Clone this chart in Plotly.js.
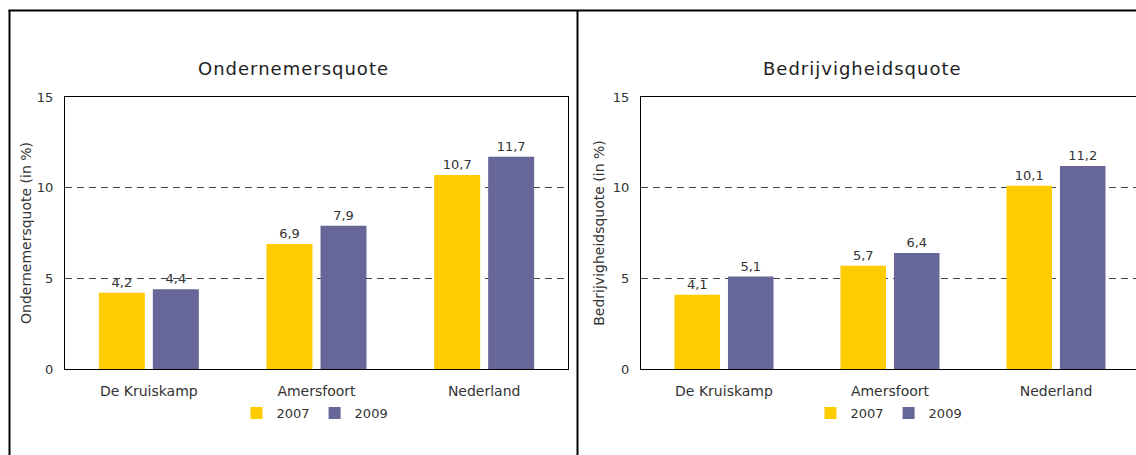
<!DOCTYPE html>
<html>
<head>
<meta charset="utf-8">
<script src="https://cdn.plot.ly/plotly-3.0.1.min.js"></script>
<style>
  html, body { margin: 0; padding: 0; overflow: hidden; background: #fff; }
  #chart { width: 1150px; height: 455px; }
  .annotation-text { letter-spacing: 1px; }
</style>
</head>
<body>
<div id="chart"></div>
<script>
// ---- data ----
const categories = ["De Kruiskamp", "Amersfoort", "Nederland"];
const seriesNames = ["2007", "2009"];
const ondernemers2007 = [4.2, 6.9, 10.7];
const ondernemers2009 = [4.4, 7.9, 11.7];
const bedrijvigheid2007 = [4.1, 5.7, 10.1];
const bedrijvigheid2009 = [5.1, 6.4, 11.2];
const panelTitles = ["Ondernemersquote", "Bedrijvigheidsquote"];
const yTitles = ["Ondernemersquote (in %)", "Bedrijvigheidsquote (in %)"];
const yTicks = [0, 5, 10, 15];

// ---- style ----
const W = 1150, H = 455;
const colors = ["#FFCC00", "#666699"];
const FONT = "DejaVu Sans, Verdana, sans-serif";
const px = v => v / W;
const py = v => 1 - v / H;

function barTrace(name, y, color, xa, ya, legend) {
  return {
    type: "bar", name: name, x: categories, y: y,
    xaxis: xa, yaxis: ya, legend: legend,
    marker: { color: color, line: { width: 0 } },
    texttemplate: "%{y:.1f}", textposition: "outside", cliponaxis: false,
    textfont: { family: FONT, size: 13, color: "#333" },
    hoverinfo: "skip"
  };
}

const data = [
  barTrace(seriesNames[0], ondernemers2007, colors[0], "x", "y", "legend"),
  barTrace(seriesNames[1], ondernemers2009, colors[1], "x", "y", "legend"),
  barTrace(seriesNames[0], bedrijvigheid2007, colors[0], "x2", "y2", "legend2"),
  barTrace(seriesNames[1], bedrijvigheid2009, colors[1], "x2", "y2", "legend2")
];

function xAxis(domain, anchor) {
  return {
    domain: domain, anchor: anchor, showline: true, mirror: true,
    linecolor: "#000", linewidth: 1, ticks: "", showgrid: false,
    ticklabelstandoff: 9, fixedrange: true,
    tickfont: { family: FONT, size: 14, color: "#333" }
  };
}
function yAxis(anchor, title, standoff) {
  return {
    domain: [py(369), py(97)], anchor: anchor, range: [0, 15],
    tickvals: yTicks, ticktext: yTicks.map(String),
    showline: true, mirror: true, linecolor: "#000", linewidth: 1,
    ticks: "", ticklabelstandoff: 8, zeroline: false, fixedrange: true,
    showgrid: true, gridcolor: "#444", gridwidth: 1, griddash: "7px,5px",
    tickfont: { family: FONT, size: 13, color: "#333" },
    title: { text: title, standoff: standoff, font: { family: FONT, size: 14, color: "#333" } }
  };
}

const borderLine = { color: "#000", width: 2 };
const legendFont = { family: FONT, size: 13, color: "#333" };
const layout = {
  width: W, height: H,
  margin: { l: 0, r: 0, t: 0, b: 0 },
  paper_bgcolor: "#fff", plot_bgcolor: "#fff",
  separators: ",.",
  barmode: "group", bargap: 0.356, bargroupgap: 0.148,
  font: { family: FONT, size: 13, color: "#333" },
  xaxis: xAxis([px(65), px(568)], "y"),
  yaxis: yAxis("x", yTitles[0], 1),
  xaxis2: xAxis([px(641), px(1139)], "y2"),
  yaxis2: yAxis("x2", yTitles[1], 4),
  legend: {
    orientation: "h", x: px(315), xanchor: "center", y: py(413), yanchor: "middle",
    font: legendFont, bgcolor: "rgba(0,0,0,0)"
  },
  legend2: {
    orientation: "h", x: px(889), xanchor: "center", y: py(413), yanchor: "middle",
    font: legendFont, bgcolor: "rgba(0,0,0,0)"
  },
  annotations: [
    { text: panelTitles[0], xref: "paper", yref: "paper", x: px(293), y: py(68),
      xanchor: "center", yanchor: "middle", showarrow: false,
      font: { family: FONT, size: 18, color: "#222" } },
    { text: panelTitles[1], xref: "paper", yref: "paper", x: px(862), y: py(68),
      xanchor: "center", yanchor: "middle", showarrow: false,
      font: { family: FONT, size: 18, color: "#222" } }
  ],
  shapes: [
    { type: "line", xref: "paper", yref: "paper", x0: px(9.5), x1: px(9.5), y0: py(10), y1: py(470), line: borderLine },
    { type: "line", xref: "paper", yref: "paper", x0: px(8.5), x1: px(1147), y0: py(10.5), y1: py(10.5), line: borderLine },
    { type: "line", xref: "paper", yref: "paper", x0: px(577.5), x1: px(577.5), y0: py(10), y1: py(470), line: borderLine },
    { type: "line", xref: "paper", yref: "paper", x0: px(1146.5), x1: px(1146.5), y0: py(10), y1: py(470), line: borderLine }
  ]
};

Plotly.newPlot("chart", data, layout, { staticPlot: true, displayModeBar: false });
</script>
</body>
</html>
